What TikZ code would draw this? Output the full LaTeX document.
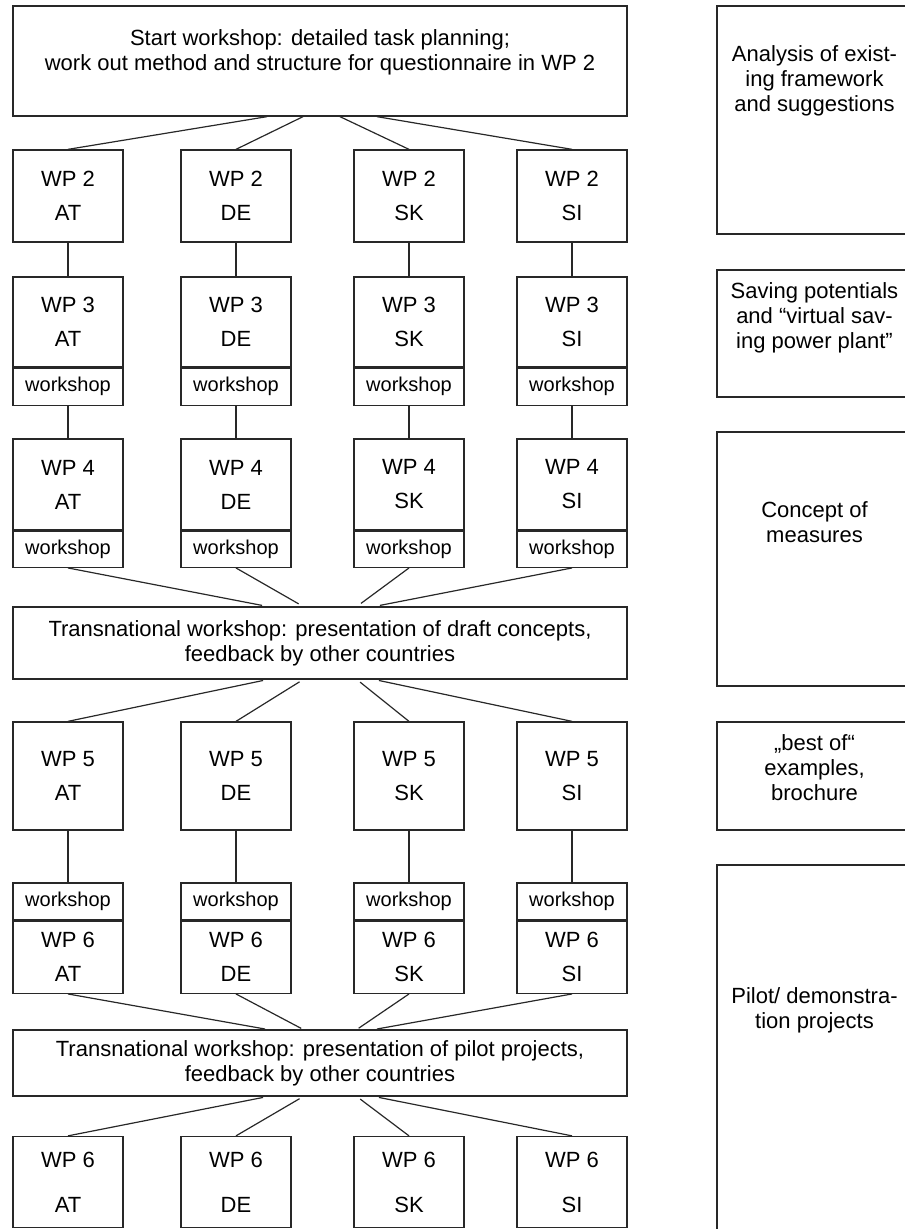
\documentclass[tikz,border=0pt]{standalone}
\usepackage{fontspec}
\setmainfont{Liberation Sans}
\usetikzlibrary{positioning}
\definecolor{rahmen}{RGB}{40,40,40}
\tikzset{
  wp/.style={draw=rahmen, line width=1.3pt, minimum width=110pt, inner sep=0pt, align=center, font=\fontsize{22}{34}\selectfont},
  ws/.style={draw=rahmen, line width=1.3pt, minimum width=110pt, minimum height=37pt, inner sep=0pt, font=\fontsize{20}{24}\selectfont},
  wide/.style={draw=rahmen, line width=1.3pt, minimum width=614pt, inner sep=0pt, align=center, font=\fontsize{22}{25}\selectfont},
  side/.style={draw=rahmen, line width=1.3pt, minimum width=195pt, inner sep=0pt},
  txt/.style={align=center, inner sep=0pt, font=\fontsize{22}{25}\selectfont},
  verb/.style={rahmen, line width=1.2pt},
}

\begin{document}
\begin{tikzpicture}[x=1pt, y=-1pt]

    \useasboundingbox (0,0) rectangle (905,1229);

    % work packages, left part
	\node[wide, minimum height=110pt] (start) at (320,61) {};
	\node[txt] (start-t) at (320,52.5) {Start workshop: detailed task planning;\\work out method and structure for questionnaire in WP 2};
	\node[wide, minimum height=72pt] (tr1) at (320,643) {Transnational workshop: presentation of draft concepts,\\feedback by other countries};
	\node[wide, minimum height=66pt] (tr2) at (320,1063) {Transnational workshop: presentation of pilot projects,\\feedback by other countries};

	\foreach \k/\x/\ctry in {at/68/AT, de/236/DE, sk/409/SK, si/572/SI} {
		\node[wp, minimum height=92pt] (\k2) at (\x,196) {WP 2\\\ctry};
		\node[wp, minimum height=90pt] (\k3) at (\x,322) {WP 3\\\ctry};
		\node[ws, below=0pt of \k3] (\k3w) {workshop};
		\node[wp, minimum height=91pt] (\k4) at (\x,484.5) {WP 4\\\ctry};
		\node[ws, minimum height=36pt, below=0pt of \k4] (\k4w) {workshop};
		\node[wp, minimum height=108pt] (\k5) at (\x,776) {WP 5\\\ctry};
		\node[ws] (\k6w) at (\x,901.5) {workshop};
		\node[wp, minimum height=72pt, below=0pt of \k6w] (\k6) {WP 6\\\ctry};
		\node[wp, minimum height=91pt] (\k7) at (\x,1182) {WP 6\\[11pt]\ctry};
		\draw[verb] (\k2) -- (\k3);
		\draw[verb] (\k3w) -- (\k4);
		\draw[verb] (\k5) -- (\k6w);
	}

	\foreach \k/\dx in {at/-53, de/-17, sk/20, si/57}
		\draw[verb] ([xshift=\dx pt]start.south) -- (\k2.north);
	\foreach \k/\dx in {at/-53, de/-17, sk/37, si/55} {
		\draw[verb, shorten >=5pt] (\k4w.south) -- ([xshift=\dx pt]tr1.north);
		\draw[verb, shorten <=4pt] ([xshift=\dx pt]tr1.south) -- (\k5.north);
		\draw[verb, shorten >=2pt] (\k6.south) -- ([xshift=\dx pt]tr2.north);
		\draw[verb, shorten <=4pt] ([xshift=\dx pt]tr2.south) -- (\k7.north);
	}

    % results, right part
	\node[side, minimum height=228pt] (ana) at (814.5,120) {};
	\node[txt] (ana-t) at (814.5,81) {Analysis of exist-\\ing framework\\and suggestions};
	\node[side, minimum height=127pt] (sav) at (814.5,333.5) {};
	\node[txt] (sav-t) at (814.5,317.5) {Saving potentials\\and “virtual sav-\\ing power plant”};
	\node[side, minimum height=254pt] (con) at (814.5,559) {};
	\node[txt] (con-t) at (814.5,522.5) {Concept of\\measures};
	\node[side, minimum height=108pt] (best) at (814.5,776) {};
	\node[txt] (best-t) at (814.5,768) {„best of“\\examples,\\brochure};
	\node[side, minimum height=375pt] (pil) at (814.5,1052.5) {};
	\node[txt] (pil-t) at (814.5,1010) {Pilot/ demonstra-\\tion projects};

\end{tikzpicture}
\end{document}
